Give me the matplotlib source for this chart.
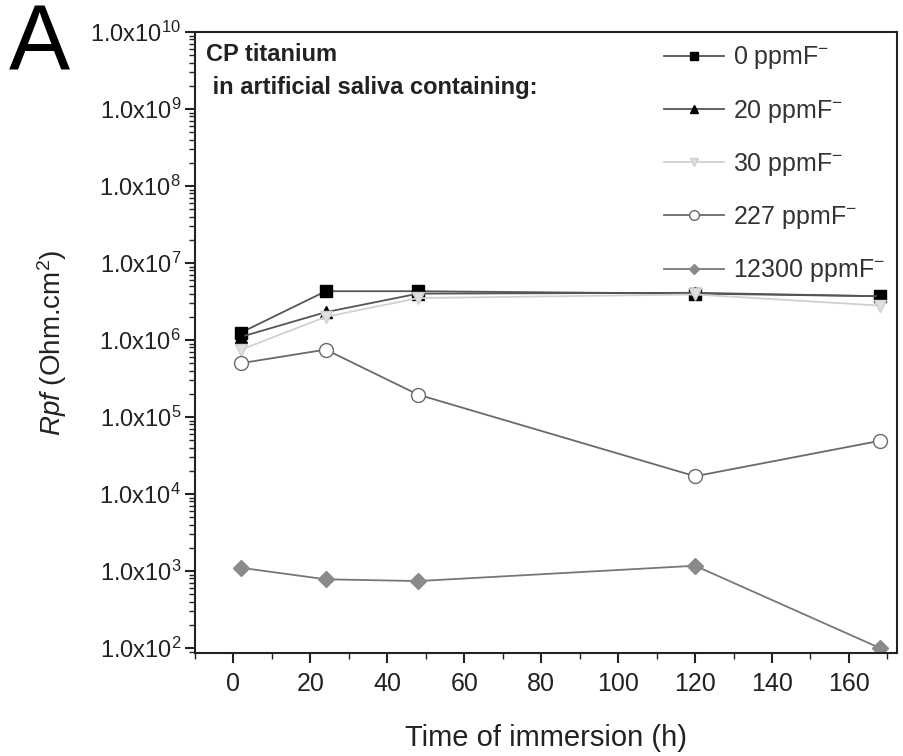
import math
import matplotlib
matplotlib.use("Agg")
import matplotlib.pyplot as plt
from matplotlib.ticker import LogLocator, FixedLocator, FuncFormatter, MultipleLocator

plt.rcParams['font.family'] = ['Liberation Sans', 'DejaVu Sans']
plt.rcParams['mathtext.fontset'] = 'custom'
plt.rcParams['mathtext.rm'] = 'Liberation Sans'
plt.rcParams['mathtext.it'] = 'Liberation Sans:italic'

# datos
tiempo = [2, 24, 48, 120, 168]
rpf_0 = [1.25e6, 4.3e6, 4.3e6, 4.0e6, 3.7e6]
rpf_20 = [1.1e6, 2.3e6, 4.0e6, 4.1e6, 3.7e6]
rpf_30 = [7.5e5, 2.0e6, 3.5e6, 3.9e6, 2.8e6]
rpf_227 = [5.0e5, 7.5e5, 1.95e5, 1.7e4, 4.9e4]
rpf_12300 = [1.1e3, 7.8e2, 7.4e2, 1.17e3, 1.0e2]
etiquetas = ['0 ppmF$^{-}$', '20 ppmF$^{-}$', '30 ppmF$^{-}$', '227 ppmF$^{-}$', '12300 ppmF$^{-}$']

fig = plt.figure(figsize=(9.04, 7.56), dpi=100)
ax = fig.add_axes([0.2157, 0.1362, 0.9923 - 0.2157, 0.9577 - 0.1362])

ax.plot(tiempo, rpf_0, color='#555555', lw=1.3, marker='s', ms=9, mfc='black', mec='black', label=etiquetas[0])
ax.plot(tiempo, rpf_20, color='#555555', lw=1.3, marker='^', ms=9, mfc='black', mec='black', label=etiquetas[1])
ax.plot(tiempo, rpf_30, color='#d0d0d0', lw=1.3, marker='v', ms=9, mfc='#e0e0e0', mec='#d0d0d0', label=etiquetas[2])
ax.plot(tiempo, rpf_227, color='#6a6a6a', lw=1.3, marker='o', ms=10, mfc='white', mec='#6a6a6a', label=etiquetas[3])
ax.plot(tiempo, rpf_12300, color='#777777', lw=1.3, marker='D', ms=8, mfc='#8a8a8a', mec='#8a8a8a', label=etiquetas[4])

ax.set_yscale('log')
ax.set_ylim(86, 1e10)
ax.set_xlim(-10, 172.5)

ax.yaxis.set_major_locator(FixedLocator([10.0 ** k for k in range(2, 11)]))
ax.yaxis.set_minor_locator(LogLocator(base=10, subs=range(2, 10), numticks=20))
ax.yaxis.set_major_formatter(FuncFormatter(lambda v, p: '1.0x10$^{%d}$' % round(math.log10(v))))
ax.xaxis.set_major_locator(MultipleLocator(20))
ax.xaxis.set_minor_locator(MultipleLocator(10))

ax.tick_params(axis='both', which='major', direction='out', length=7, width=1.5, colors='#222222')
ax.tick_params(axis='both', which='minor', direction='out', length=4, width=1.0, colors='#222222')
ax.tick_params(axis='x', labelsize=18, pad=7)
ax.tick_params(axis='y', labelsize=17, pad=3)
for s in ax.spines.values():
    s.set_linewidth(1.5)
    s.set_color('#222222')

ax.set_xlabel('Time of immersion (h)', fontsize=21, labelpad=20, color='#222222')
ax.set_ylabel('$\\it{Rpf}$ (Ohm.cm$^{2}$)', fontsize=20, labelpad=15, color='#222222')

ax.text(0.016, 0.983, 'CP titanium\n in artificial saliva containing:', transform=ax.transAxes,
        fontsize=17, fontweight='bold', va='top', ha='left', color='#222222', linespacing=1.6)

fig.text(0.01, 0.995, 'A', fontsize=66, va='top', ha='left', color='black')

leg = ax.legend(loc='upper right', frameon=False, fontsize=18, handlelength=2.4, labelspacing=1.05,
                borderaxespad=0.2, handletextpad=0.35, markerscale=0.7, borderpad=0.3)
for t in leg.get_texts():
    t.set_color('#333333')

fig.savefig('out.png', dpi=100)
